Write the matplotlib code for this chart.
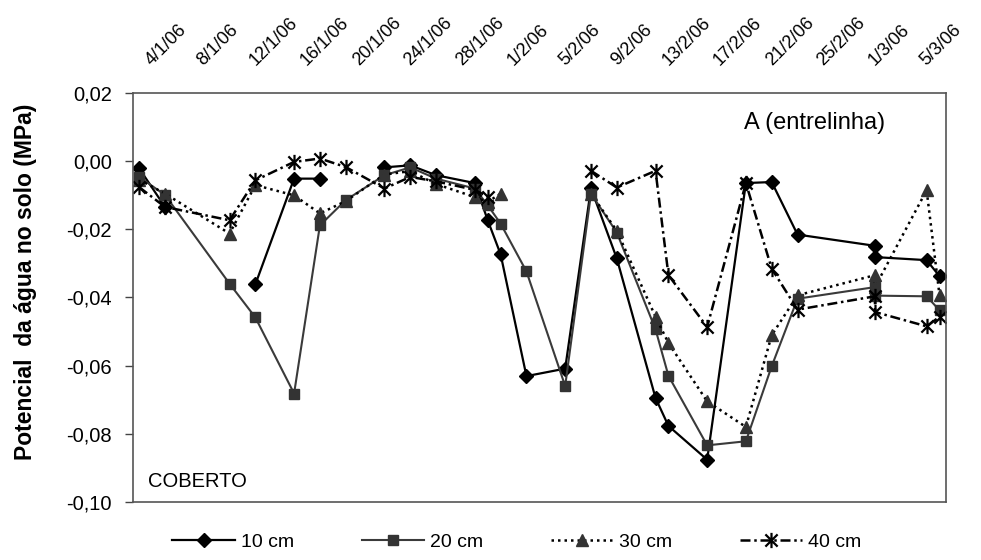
import matplotlib
matplotlib.use("Agg")
import matplotlib.pyplot as plt
import matplotlib.dates as mdates
from matplotlib.path import Path
from matplotlib.ticker import FuncFormatter, MultipleLocator
import numpy as np
import pandas as pd

nan = np.nan

# measurement dates (dd/mm/yy); 1/3/06 appears twice in the sheet
dates = ["3/1/06", "5/1/06", "10/1/06", "12/1/06", "15/1/06", "17/1/06",
         "19/1/06", "22/1/06", "24/1/06", "26/1/06", "29/1/06", "30/1/06",
         "31/1/06", "2/2/06", "5/2/06", "7/2/06", "9/2/06", "12/2/06",
         "13/2/06", "16/2/06", "19/2/06", "21/2/06", "23/2/06", "1/3/06",
         "1/3/06", "5/3/06", "6/3/06"]

cm10 = [-0.0022, -0.0135, nan, -0.0362, -0.0052, -0.0052, nan, -0.0019,
        -0.0013, -0.0042, -0.0065, -0.0174, -0.0274, -0.0631, -0.0609,
        -0.0080, -0.0286, -0.0695, -0.0777, -0.0876, -0.0065, -0.0062,
        -0.0216, -0.0249, -0.0282, -0.0291, -0.0338]
cm20 = [-0.0047, -0.0100, -0.0360, -0.0459, -0.0682, -0.0189, -0.0115,
        -0.0042, -0.0019, -0.0052, -0.0081, -0.0130, -0.0184, -0.0324,
        -0.0660, -0.0096, -0.0210, -0.0494, -0.0630, -0.0834, -0.0822,
        -0.0602, -0.0404, -0.0370, -0.0395, -0.0397, -0.0438]
cm30 = [-0.0055, -0.0096, -0.0213, -0.0071, -0.0101, -0.0154, -0.0118,
        -0.0040, -0.0030, -0.0068, -0.0106, -0.0120, -0.0096, nan, nan,
        -0.0096, -0.0205, -0.0457, -0.0534, -0.0705, -0.0780, -0.0511,
        -0.0394, -0.0335, -0.0370, -0.0086, -0.0394]
cm40 = [-0.0077, -0.0135, -0.0174, -0.0057, -0.0003, 0.0007, -0.0018,
        -0.0081, -0.0047, -0.0060, -0.0085, -0.0105, nan, nan, nan,
        -0.0029, -0.0078, -0.0029, -0.0335, -0.0487, -0.0065, -0.0316,
        -0.0436, -0.0397, -0.0443, -0.0485, -0.0457]

tick_labels = ["4/1/06", "8/1/06", "12/1/06", "16/1/06", "20/1/06",
               "24/1/06", "28/1/06", "1/2/06", "5/2/06", "9/2/06",
               "13/2/06", "17/2/06", "21/2/06", "25/2/06", "1/3/06",
               "5/3/06"]

plt.rcParams["font.family"] = ["Liberation Sans", "DejaVu Sans"]

x = mdates.date2num(pd.to_datetime(dates, dayfirst=True, format="%d/%m/%y"))
ticks = mdates.date2num(pd.to_datetime(tick_labels, dayfirst=True, format="%d/%m/%y"))

# Excel-like asterisk marker (vertical bar + X)
star = Path([(0, -1), (0, 1), (-0.8, -0.8), (0.8, 0.8), (-0.8, 0.8), (0.8, -0.8)],
            [Path.MOVETO, Path.LINETO] * 3)

fig = plt.figure(figsize=(9.81, 5.6), dpi=100)
ax = fig.add_axes([0.1353, 0.1036, 0.829, 0.7309])

ax.plot(x, cm10, color="black", lw=1.6, marker="D", ms=7,
        mfc="black", mec="black", label="10 cm")
ax.plot(x, cm20, color="#3a3a3a", lw=1.5, marker="s", ms=7,
        mfc="#333333", mec="#333333", label="20 cm")
ax.plot(x, cm30, color="black", lw=1.8, ls=(0, (1, 1.6)), marker="^", ms=8.5,
        mfc="#333333", mec="#333333", label="30 cm")
ax.plot(x, cm40, color="black", lw=1.8, ls=(0, (4, 1.5, 1, 1.5)), marker=star,
        ms=11, mfc="none", mec="black", mew=1.6, label="40 cm")

ax.set_xlim(x[0] - 0.5, x[-1] + 0.5)
ax.set_ylim(-0.10, 0.02)
ax.yaxis.set_major_locator(MultipleLocator(0.02))
ax.yaxis.set_major_formatter(
    FuncFormatter(lambda v, _: f"{round(v, 2) + 0:.2f}".replace(".", ",")))

ax.xaxis.tick_top()
ax.set_xticks(ticks)
ax.set_xticklabels(tick_labels)
ax.tick_params(axis="x", length=0, pad=19, labelsize=13)
for lab in ax.get_xticklabels():
    lab.set_rotation(45)
    lab.set_rotation_mode("anchor")
    lab.set_ha("left")
    lab.set_va("baseline")

ax.tick_params(axis="y", direction="out", length=6, width=1, pad=9,
               labelsize=14.5, color="#444444")
for sp in ax.spines.values():
    sp.set_color("#555555")
    sp.set_linewidth(1.2)

ax.set_ylabel("Potencial  da água no solo (MPa)", fontsize=16.5,
              fontweight="bold")
ax.yaxis.set_label_coords(-0.118, 0.537)

ax.text(0.839, 0.926, "A (entrelinha)", transform=ax.transAxes,
        fontsize=17, ha="center", va="center")
ax.text(0.019, 0.049, "COBERTO", transform=ax.transAxes,
        fontsize=14.5, ha="left", va="center")

fig.legend(loc="center", bbox_to_anchor=(0.527, 0.032), ncol=4, frameon=False,
           fontsize=14, handlelength=3.2, columnspacing=3.5, handletextpad=0.3)

fig.savefig("out.png", dpi=100)
